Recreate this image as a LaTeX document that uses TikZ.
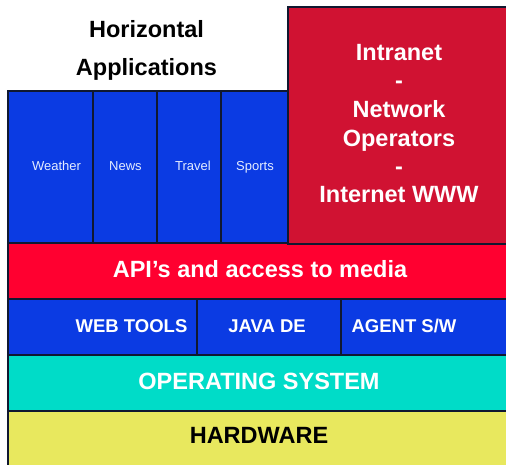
\documentclass[tikz,border=0pt]{standalone}
\usepackage{fontspec}
\setmainfont{Liberation Sans}
\definecolor{appblue}{HTML}{0B3BE3}
\definecolor{netred}{HTML}{D01232}
\definecolor{apired}{HTML}{FF0030}
\definecolor{osteal}{HTML}{00DCC8}
\definecolor{hwyellow}{HTML}{E8E85E}
\definecolor{edge}{HTML}{101830}
\definecolor{softwhite}{HTML}{E4ECFF}
\tikzset{
  block/.style={draw=edge, line width=1.2pt, anchor=north west, inner sep=0pt, outer sep=0pt},
  bigtext/.style={font=\fontsize{23.5}{28}\selectfont\bfseries, text=white, inner sep=0pt, anchor=base},
  midtext/.style={font=\fontsize{18.5}{22}\selectfont\bfseries, text=white, inner sep=0pt, anchor=base},
  smalltext/.style={font=\fontsize{13}{15}\selectfont, text=softwhite, inner sep=0pt, anchor=base},
}
\begin{document}
\begin{tikzpicture}[x=1pt, y=-1pt]
\useasboundingbox (0,0) rectangle (506,465);
\fill[white] (0,0) rectangle (506,465);

% stacked platform layers
\node[block, fill=hwyellow, minimum width=505, minimum height=62] (hw) at (8,411) {};
\node[block, fill=osteal, minimum width=505, minimum height=56] (os) at (8,355) {};
\node[block, fill=appblue, minimum width=189, minimum height=56] (web) at (8,299) {};
\node[block, fill=appblue, minimum width=144, minimum height=56] (java) at (197,299) {};
\node[block, fill=appblue, minimum width=172, minimum height=56] (agent) at (341,299) {};
\node[block, fill=apired, minimum width=505, minimum height=56] (api) at (8,243) {};

% horizontal applications
\node[block, fill=appblue, minimum width=85, minimum height=152] (weather) at (8,91) {};
\node[block, fill=appblue, minimum width=64, minimum height=152] (news) at (93,91) {};
\node[block, fill=appblue, minimum width=64, minimum height=152] (travel) at (157,91) {};
\node[block, fill=appblue, minimum width=67, minimum height=152] (sports) at (221,91) {};

% network box
\node[block, fill=netred, minimum width=225, minimum height=237] (net) at (288,7) {};

% labels
\node[bigtext, text=black] (hwlbl) at (259,443.5) {HARDWARE};
\node[bigtext] (oslbl) at (259,389) {OPERATING SYSTEM};
\node[midtext] (weblbl) at (131.5,332) {WEB TOOLS};
\node[midtext] (javalbl) at (267,332) {JAVA DE};
\node[midtext] (agentlbl) at (404,332) {AGENT S/W};
\node[bigtext] (apilbl) at (260,277.5) {API’s and access to media};

\node[smalltext] (wlbl) at (56.5,171) {Weather};
\node[smalltext] (nlbl) at (125.5,171) {News};
\node[smalltext] (tlbl) at (193,171) {Travel};
\node[smalltext] (slbl) at (255,171) {Sports};

\node[bigtext, text=black] (hz1) at (146.5,37.5) {Horizontal};
\node[bigtext, text=black] (hz2) at (146.5,76) {Applications};

\node[bigtext] (n1) at (399,60.5) {Intranet};
\node[bigtext] (n2) at (399,89) {-};
\node[bigtext] (n3) at (399,117.5) {Network};
\node[bigtext] (n4) at (399,146.5) {Operators};
\node[bigtext] (n5) at (399,174.5) {-};
\node[bigtext] (n6) at (399,202.5) {Internet WWW};
\end{tikzpicture}
\end{document}
